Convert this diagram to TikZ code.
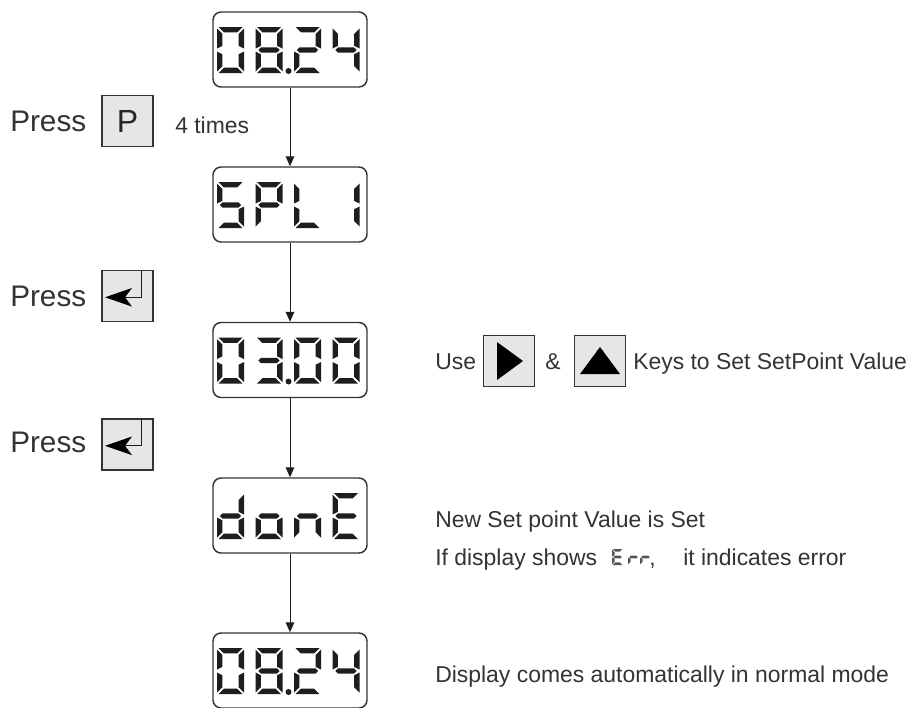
\documentclass[tikz,border=0pt]{standalone}
\usepackage{fontspec}
\setmainfont{Liberation Sans}
\usetikzlibrary{arrows.meta}
\definecolor{txtc}{HTML}{333333}
\definecolor{segc}{HTML}{1E1E1E}
\definecolor{keyfill}{HTML}{E6E6E6}
\definecolor{linec}{HTML}{333333}
\definecolor{errc}{HTML}{555555}

% seven-segment geometry (pixel units)
\def\dW{27}\def\dH{46}\def\dT{5.4}\def\dG{1.5}
\def\sga{\fill[segfill] (\dG,0) -- ({\dW-\dG},0) -- ({\dW-\dG-\dT},\dT) -- ({\dG+\dT},\dT) -- cycle;}
\def\sgd{\fill[segfill] (\dG,\dH) -- ({\dW-\dG},\dH) -- ({\dW-\dG-\dT},{\dH-\dT}) -- ({\dG+\dT},{\dH-\dT}) -- cycle;}
\def\sgf{\fill[segfill] (0,\dG) -- (0,{\dH/2-\dG}) -- (\dT,{\dH/2-\dG-\dT/2}) -- (\dT,{\dG+\dT}) -- cycle;}
\def\sge{\fill[segfill] (0,{\dH/2+\dG}) -- (0,{\dH-\dG}) -- (\dT,{\dH-\dG-\dT}) -- (\dT,{\dH/2+\dG+\dT/2}) -- cycle;}
\def\sgb{\fill[segfill] (\dW,\dG) -- (\dW,{\dH/2-\dG}) -- ({\dW-\dT},{\dH/2-\dG-\dT/2}) -- ({\dW-\dT},{\dG+\dT}) -- cycle;}
\def\sgc{\fill[segfill] (\dW,{\dH/2+\dG}) -- (\dW,{\dH-\dG}) -- ({\dW-\dT},{\dH-\dG-\dT}) -- ({\dW-\dT},{\dH/2+\dG+\dT/2}) -- cycle;}
\def\sgg{\fill[segfill] ({\dG+\dT/4},{\dH/2}) -- ({\dG+\dT*0.75},{\dH/2-\dT/2}) -- ({\dW-\dG-\dT*0.75},{\dH/2-\dT/2}) -- ({\dW-\dG-\dT/4},{\dH/2}) -- ({\dW-\dG-\dT*0.75},{\dH/2+\dT/2}) -- ({\dG+\dT*0.75},{\dH/2+\dT/2}) -- cycle;}
\newcommand\SevDig[3]{\begin{scope}[shift={(#1,#2)}]\foreach \segid in {#3}{\csname sg\segid\endcsname}\end{scope}}
% a display row: #1 = top y, #2..#5 digit segments, #6 = dot (1 or 0)
\newcommand\DispRow[6]{%
  \SevDig{217}{#1+15}{#2}\SevDig{255.5}{#1+15}{#3}\SevDig{294}{#1+15}{#4}\SevDig{332.5}{#1+15}{#5}%
  \ifnum#6=1 \fill[segfill] (288.5,{#1+59}) circle (3);\fi}

\begin{document}
\begin{tikzpicture}[x=0.75pt,y=-0.75pt,
  segfill/.style={fill=segc},
  disp/.style={draw=linec, line width=1.1pt, rounded corners=6pt, minimum width=115.5pt, minimum height=56.25pt, inner sep=0pt, fill=white},
  keybox/.style={draw=linec, fill=keyfill, line width=0.9pt, minimum size=38.25pt, inner sep=0pt},
  flow/.style={draw=segc, line width=0.75pt, -{Triangle[length=7.5pt,width=6.5pt]}},
  big/.style={font=\fontsize{22.3}{26}\selectfont, text=txtc, inner sep=0pt},
  small/.style={font=\fontsize{17.2}{20}\selectfont, text=txtc, inner sep=0pt}]
\useasboundingbox (0,0) rectangle (914,707);
\clip (0,0) rectangle (914,707);

% display boxes
\node[disp] (d1) at (290,49.5) {};
\node[disp] (d2) at (290,204.5) {};
\node[disp] (d3) at (290,360) {};
\node[disp] (d4) at (290,515.5) {};
\node[disp] (d5) at (290,670.5) {};

\draw[flow] (d1) -- (d2);
\draw[flow] (d2) -- (d3);
\draw[flow] (d3) -- (d4);
\draw[flow] (d4) -- (d5);

% digits
\DispRow{12}{a,b,c,d,e,f}{a,b,c,d,e,f,g}{a,b,g,e,d}{f,g,b,c}{1}
\DispRow{167}{a,f,g,c,d}{a,b,f,g,e}{f,e,d}{b,c}{0}
\DispRow{322.5}{a,b,c,d,e,f}{a,b,g,c,d}{a,b,c,d,e,f}{a,b,c,d,e,f}{1}
\DispRow{478}{b,c,d,e,g}{c,d,e,g}{c,e,g}{a,d,e,f,g}{0}
\DispRow{633}{a,b,c,d,e,f}{a,b,c,d,e,f,g}{a,b,g,e,d}{f,g,b,c}{1}

% left side
\node[big, anchor=base west] (p1) at (10,131.5) {Press};
\node[keybox] (kp) at (127.5,121) {\fontsize{24}{28}\selectfont\color{black!85}P};
\node[small, anchor=base west] (t4) at (175,133) {4 times};

\node[big, anchor=base west] (p2) at (10,306.5) {Press};
\node[keybox] (ke1) at (127.5,296) {};
\node[big, anchor=base west] (p3) at (10,452.5) {Press};
\node[keybox] (ke2) at (127.5,444.5) {};

\foreach \k in {ke1,ke2}{
  \begin{scope}[shift={(\k.center)}]
    \draw[segc, line width=0.75pt] (14.2,-25.5) -- (14.2,1.3) -- (-3,1.3);
    \fill[black] (-22.5,1.3) -- (4.5,-8) -- (-2.5,1.3) -- (4.5,10.6) -- cycle;
  \end{scope}
}

% right side, row 3
\node[small, anchor=base west] (use) at (435,369) {Use};
\node[keybox] (kr) at (509,361) {};
\node[small, anchor=base] (amp) at (553,369) {\&};
\node[keybox] (ku) at (600,361) {};
\node[small, anchor=base west] (keys) at (633,369) {Keys to Set SetPoint Value};
\begin{scope}[shift={(kr.center)}]
  \fill[black] (-12,-19) -- (14,0) -- (-12,19) -- cycle;
\end{scope}
\begin{scope}[shift={(ku.center)}]
  \fill[black] (-20,13) -- (0,-14) -- (20,13) -- cycle;
\end{scope}

% row 4
\node[small, anchor=base west] (new) at (435,527) {New Set point Value is Set};
\node[small, anchor=base west] (ifd) at (435,565) {If display shows};
\begin{scope}[segfill/.style={fill=errc}]
  \def\dW{11}\def\dH{16}\def\dT{2.6}\def\dG{0.6}
  \SevDig{612}{549}{a,d,e,f,g}
  \SevDig{628}{549}{e,g}
  \SevDig{640}{549}{e,g}
\end{scope}
\node[small, anchor=base west] (com) at (649,565) {,};
\node[small, anchor=base west] (ind) at (683,565) {it indicates error};

% row 5
\node[small, anchor=base west] (dsp) at (435,682) {Display comes automatically in normal mode};
\end{tikzpicture}
\end{document}
